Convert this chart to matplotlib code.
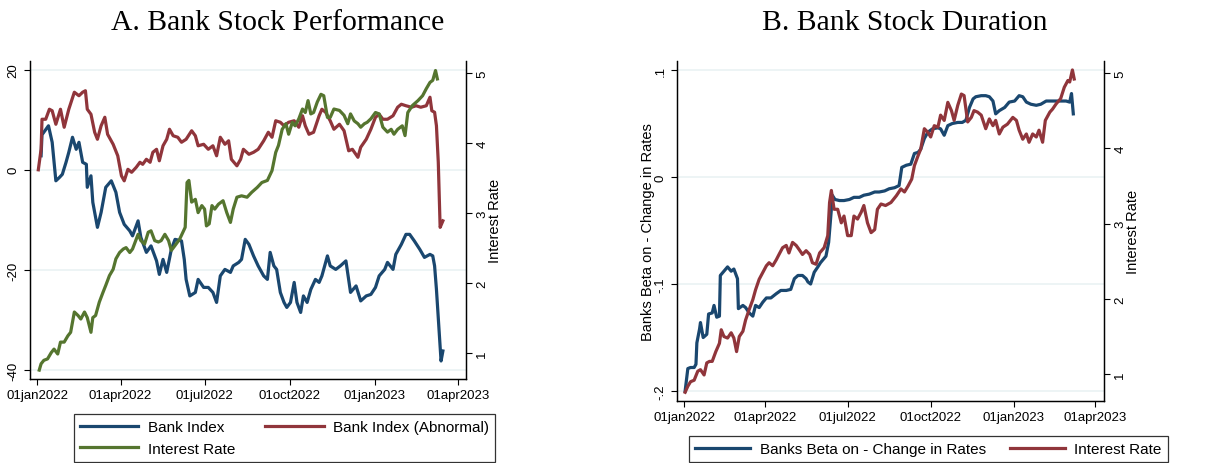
import numpy as np
import matplotlib
matplotlib.use("Agg")
import matplotlib.pyplot as plt
from matplotlib.lines import Line2D

plt.rcParams['font.family'] = ['Liberation Sans', 'DejaVu Sans']

# days since 01jan2022
bank_days = [4, 5, 12, 16, 20, 24, 27, 31, 34, 38,
             42, 45, 49, 53, 54, 58, 60, 65, 69, 74,
             80, 85, 89, 94, 100, 103, 109, 112, 118, 123,
             129, 132, 136, 140, 145, 149, 156, 159, 161, 165,
             171, 174, 180, 185, 190, 194, 198, 203, 209, 212,
             218, 221, 225, 229, 234, 239, 245, 249, 252, 256,
             259, 263, 267, 270, 274, 278, 281, 285, 288, 292,
             296, 301, 305, 308, 314, 317, 323, 328, 334, 339,
             345, 350, 356, 361, 366, 370, 376, 379, 385, 388,
             394, 399, 403, 408, 414, 419, 425, 428, 430, 432,
             435, 437, 439]
bank_index = [2.8, 7, 8.8, 5.5, -2.2, -1.5, -0.9, 1.5, 3.5, 6.5,
              4.1, 5.5, 1.5, 1.1, -3.5, -1.2, -6.5, -11.5, -8.5, -3.5,
              -2.2, -4.5, -8.5, -10.9, -12.2, -13.2, -10.2, -13.5, -16.5, -15.2,
              -18.2, -20.9, -17.9, -20.5, -15.9, -13.9, -14.2, -17.9, -21.9, -25.2,
              -24.5, -21.9, -23.5, -23.5, -24.5, -26.5, -21.2, -19.9, -20.5, -19.2,
              -18.5, -17.9, -13.9, -14.9, -17.2, -19.2, -21.2, -21.9, -16.5, -19.2,
              -19.9, -24.5, -26.5, -27.5, -26.5, -22.5, -26.5, -28.5, -25.2, -26.5,
              -23.9, -21.9, -22.5, -21.2, -17.2, -19.2, -19.9, -19.2, -18.2, -24.5,
              -23.2, -26.2, -25.2, -24.9, -23.5, -21.2, -19.9, -18.5, -19.9, -16.9,
              -14.9, -12.9, -12.9, -14.2, -15.9, -17.5, -16.9, -17.2, -19.2, -23.9,
              -32.5, -38.2, -36.2]

abn_days = [1, 4, 5, 9, 13, 16, 20, 25, 29, 34,
            40, 45, 49, 52, 54, 58, 62, 65, 69, 73,
            76, 82, 87, 91, 94, 98, 102, 107, 111, 114,
            118, 122, 125, 129, 132, 136, 140, 143, 147, 152,
            156, 161, 167, 171, 174, 180, 185, 190, 194, 198,
            203, 207, 210, 216, 220, 223, 229, 234, 239, 245,
            250, 254, 258, 263, 267, 272, 278, 283, 287, 290,
            294, 299, 305, 308, 312, 317, 321, 327, 332, 337,
            341, 347, 350, 356, 361, 366, 370, 374, 379, 385,
            390, 394, 399, 405, 410, 415, 421, 425, 427, 430,
            432, 434, 436, 439]
bank_abnormal = [0, 4.1, 10.1, 10.1, 12.1, 11.8, 9.1, 12.1, 8.5, 12.1,
                 15.5, 14.8, 15.5, 15.8, 12.1, 11.1, 7.5, 6.1, 8.8, 10.5,
                 7.1, 5.1, 2.8, -1.2, -2.2, 0.1, -0.5, 0.5, 1.5, 1.1,
                 2.1, 1.5, 3.5, 4.1, 1.8, 4.8, 6.1, 8.1, 6.8, 6.5,
                 5.5, 6.1, 7.8, 6.8, 4.8, 5.1, 4.1, 4.8, 2.8, 6.5,
                 5.1, 5.8, 2.1, 0.8, 2.1, 4.1, 3.1, 3.5, 4.1, 5.8,
                 7.5, 6.5, 9.8, 9.5, 8.8, 9.5, 9.8, 8.5, 10.8, 8.8,
                 7.1, 7.5, 10.8, 12.1, 11.5, 9.8, 8.1, 9.1, 7.8, 3.8,
                 4.1, 2.5, 4.5, 6.1, 8.1, 10.5, 11.1, 10.1, 10.1, 10.8,
                 12.5, 13.1, 12.8, 12.5, 12.8, 12.5, 12.8, 14.5, 11.8, 11.5,
                 8.8, 1.5, -11.5, -10.2]

rate_a_days = [2, 4, 7, 11, 15, 18, 22, 25, 29, 33,
               36, 40, 44, 47, 51, 54, 58, 60, 63, 67,
               71, 74, 78, 82, 85, 89, 93, 96, 100, 103,
               109, 112, 116, 120, 123, 127, 131, 134, 138, 142,
               145, 149, 154, 160, 162, 164, 167, 171, 174, 178,
               181, 183, 186, 189, 192, 196, 201, 205, 209, 212,
               216, 221, 227, 232, 238, 243, 249, 254, 258, 261,
               265, 269, 272, 276, 279, 283, 287, 290, 293, 296,
               299, 303, 307, 310, 314, 317, 321, 327, 332, 336,
               339, 343, 347, 350, 354, 357, 361, 366, 370, 374,
               379, 383, 386, 390, 395, 398, 401, 406, 412, 417,
               421, 425, 428, 431, 433]
rate_a = [0.76, 0.85, 0.9, 0.92, 1.01, 1.06, 0.99, 1.16, 1.16, 1.25,
          1.3, 1.59, 1.54, 1.49, 1.59, 1.51, 1.3, 1.51, 1.54, 1.73,
          1.87, 1.97, 2.11, 2.2, 2.35, 2.44, 2.49, 2.51, 2.44, 2.49,
          2.7, 2.61, 2.56, 2.73, 2.75, 2.61, 2.59, 2.61, 2.7, 2.61,
          2.47, 2.54, 2.63, 2.8, 3.44, 3.47, 3.16, 3.2, 3.01, 3.11,
          3.06, 2.82, 2.85, 3.11, 3.06, 3.13, 3.18, 3.01, 2.87, 3.06,
          3.23, 3.25, 3.23, 3.3, 3.37, 3.44, 3.47, 3.61, 3.87, 3.97,
          4.2, 4.28, 4.13, 4.3, 4.25, 4.35, 4.49, 4.44, 4.61, 4.42,
          4.44, 4.59, 4.7, 4.68, 4.37, 4.37, 4.49, 4.47, 4.4, 4.28,
          4.42, 4.32, 4.28, 4.23, 4.28, 4.3, 4.35, 4.44, 4.42, 4.23,
          4.16, 4.2, 4.13, 4.2, 4.25, 4.11, 4.44, 4.54, 4.61, 4.68,
          4.78, 4.87, 4.9, 5.04, 4.92]

beta_days = [1, 4, 7, 11, 13, 14, 17, 18, 21, 25,
             27, 31, 33, 36, 39, 40, 44, 48, 52, 55,
             59, 60, 65, 68, 72, 76, 79, 83, 87, 91,
             96, 102, 107, 113, 118, 122, 126, 131, 135, 137,
             140, 144, 148, 151, 157, 160, 163, 164, 167, 172,
             177, 183, 188, 194, 199, 205, 211, 216, 222, 227,
             233, 238, 241, 246, 251, 255, 259, 262, 266, 270,
             275, 281, 284, 288, 292, 297, 303, 308, 312, 316,
             320, 323, 329, 334, 338, 342, 345, 349, 355, 360,
             366, 371, 375, 379, 384, 390, 395, 401, 406, 412,
             417, 423, 427, 429, 431]
banks_beta = [-0.200, -0.179, -0.178, -0.178, -0.175, -0.155, -0.142, -0.136, -0.150, -0.147,
              -0.128, -0.127, -0.120, -0.131, -0.130, -0.092, -0.088, -0.084, -0.088, -0.086,
              -0.095, -0.123, -0.120, -0.122, -0.127, -0.130, -0.120, -0.122, -0.117, -0.113,
              -0.113, -0.109, -0.106, -0.106, -0.105, -0.095, -0.092, -0.092, -0.095, -0.098,
              -0.100, -0.089, -0.084, -0.080, -0.074, -0.061, -0.030, -0.017, -0.021, -0.022,
              -0.022, -0.021, -0.019, -0.019, -0.017, -0.016, -0.014, -0.014, -0.013, -0.011,
              -0.010, -0.008, 0.009, 0.011, 0.012, 0.022, 0.023, 0.026, 0.036, 0.042,
              0.045, 0.046, 0.045, 0.039, 0.048, 0.050, 0.051, 0.051, 0.053, 0.065,
              0.073, 0.075, 0.076, 0.076, 0.075, 0.071, 0.059, 0.062, 0.065, 0.070,
              0.071, 0.076, 0.075, 0.070, 0.068, 0.067, 0.068, 0.071, 0.071, 0.071,
              0.071, 0.071, 0.070, 0.078, 0.059]

rate_b_days = [1, 4, 7, 11, 15, 18, 22, 25, 28, 31,
               35, 39, 41, 44, 48, 52, 55, 58, 61, 65,
               68, 72, 76, 79, 83, 87, 91, 94, 98, 102,
               105, 109, 113, 116, 120, 124, 127, 131, 135, 139,
               142, 146, 150, 155, 159, 161, 163, 166, 170, 174,
               177, 181, 185, 188, 192, 196, 199, 203, 207, 211,
               214, 218, 223, 229, 235, 240, 244, 248, 252, 255,
               259, 262, 266, 270, 273, 277, 281, 284, 288, 292,
               296, 299, 303, 307, 310, 314, 318, 321, 325, 329,
               334, 338, 342, 345, 349, 353, 358, 364, 368, 371,
               375, 379, 382, 386, 390, 393, 397, 400, 405, 408,
               412, 417, 421, 425, 427, 430, 432]
rate_b = [0.76, 0.84, 0.9, 0.92, 1.04, 1.06, 0.99, 1.15, 1.17, 1.17,
          1.3, 1.41, 1.59, 1.5, 1.48, 1.55, 1.48, 1.3, 1.5, 1.57,
          1.72, 1.86, 1.99, 2.12, 2.26, 2.35, 2.44, 2.48, 2.44, 2.52,
          2.59, 2.68, 2.71, 2.61, 2.75, 2.71, 2.66, 2.59, 2.64, 2.59,
          2.48, 2.46, 2.61, 2.68, 2.84, 3.28, 3.44, 3.19, 3.19, 3.01,
          3.1, 2.84, 2.84, 3.1, 3.06, 3.15, 3.24, 3.01, 2.88, 2.92,
          3.19, 3.26, 3.24, 3.28, 3.37, 3.46, 3.42, 3.5, 3.59, 3.77,
          3.9, 3.99, 4.26, 4.21, 4.15, 4.3, 4.28, 4.44, 4.37, 4.61,
          4.5, 4.37, 4.57, 4.72, 4.7, 4.35, 4.41, 4.5, 4.48, 4.44,
          4.26, 4.39, 4.3, 4.37, 4.19, 4.28, 4.32, 4.41, 4.37, 4.24,
          4.12, 4.19, 4.08, 4.19, 4.15, 4.24, 4.08, 4.37, 4.48, 4.52,
          4.59, 4.66, 4.81, 4.9, 4.88, 5.04, 4.92]

tick_dates = ['2022-01-01', '2022-04-01', '2022-07-01', '2022-10-01', '2023-01-01', '2023-04-01']
tick_labels = ['01jan2022', '01apr2022', '01jul2022', '01oct2022', '01jan2023', '01apr2023']

NAVY = '#1a476f'
MAROON = '#90353b'
GREEN = '#55752f'
GRID = '#eaf2f3'
LW = 2.3

start = np.datetime64('2022-01-01')


def to_dates(days):
    return start + np.array(days).astype('timedelta64[D]')


def style_axes(ax, ax2, xlim, left_ticks, left_labels, ylim, ylim2):
    ax.set_xlim(to_dates([xlim[0]])[0], to_dates([xlim[1]])[0])
    ax.set_ylim(*ylim)
    ax2.set_ylim(*ylim2)
    ax.set_xticks(np.array(tick_dates, dtype='datetime64[D]'))
    ax.set_xticklabels(tick_labels)
    ax.set_yticks(left_ticks)
    ax.set_yticklabels(left_labels)
    ax2.set_yticks([1, 2, 3, 4, 5])
    ax2.set_yticklabels(['1', '2', '3', '4', '5'])
    for a in (ax, ax2):
        a.spines['top'].set_visible(False)
        for s in ('left', 'right', 'bottom'):
            a.spines[s].set_linewidth(0.9)
        a.tick_params(axis='y', labelrotation=90, labelsize=9.5, length=4, width=0.8)
        a.tick_params(axis='x', labelsize=9.5, length=4, width=0.8)
    for lab in ax.get_yticklabels() + ax2.get_yticklabels():
        lab.set_va('center')
    ax.grid(axis='y', color=GRID, linewidth=1.2)
    ax.set_axisbelow(True)
    ax2.set_ylabel('Interest Rate', fontsize=10.5, labelpad=0)


fig = plt.figure(figsize=(12.17, 4.64), dpi=100)

# Panel A
axA = fig.add_axes([30 / 1217, 84 / 464, 436 / 1217, 318 / 464])
axA2 = axA.twinx()
axA.plot(to_dates(bank_days), bank_index, color=NAVY, lw=LW)
axA.plot(to_dates(abn_days), bank_abnormal, color=MAROON, lw=LW)
axA2.plot(to_dates(rate_a_days), rate_a, color=GREEN, lw=LW)
style_axes(axA, axA2, (-8.7, 464.8), [-40, -20, 0, 20], ['-40', '-20', '0', '20'],
           (-41.8, 21.74), (0.633, 5.176))

# Panel B
axB = fig.add_axes([677 / 1217, 62 / 464, 427 / 1217, 340 / 464])
axB2 = axB.twinx()
axB.plot(to_dates(beta_days), banks_beta, color=NAVY, lw=LW)
axB2.plot(to_dates(rate_b_days), rate_b, color=MAROON, lw=LW)
style_axes(axB, axB2, (-8.9, 465), [-0.2, -0.1, 0, 0.1], ['-.2', '-.1', '0', '.1'],
           (-0.2093, 0.1084), (0.644, 5.159))
axB.set_ylabel('Banks Beta on - Change in Rates', fontsize=10.5, labelpad=0)

# titles
fig.text(278 / 1217, 1 - 23 / 464, 'A. Bank Stock Performance', ha='center', va='center',
         fontsize=21.3, family=['Liberation Serif', 'DejaVu Serif'])
fig.text(905 / 1217, 1 - 23 / 464, 'B. Bank Stock Duration', ha='center', va='center',
         fontsize=21.3, family=['Liberation Serif', 'DejaVu Serif'])

# legends
hA = [Line2D([], [], color=NAVY, lw=LW), Line2D([], [], color=GREEN, lw=LW),
      Line2D([], [], color=MAROON, lw=LW)]
legA = fig.legend(hA, ['Bank Index', 'Interest Rate', 'Bank Index (Abnormal)'],
                  ncol=2, loc='upper center', bbox_to_anchor=(284.5 / 1217, 1 - 415 / 464),
                  frameon=True, fancybox=False, edgecolor='black', fontsize=11,
                  handlelength=3.8, handletextpad=0.6, columnspacing=2.0,
                  borderpad=0.4, labelspacing=0.5, borderaxespad=0)
legA.get_frame().set_linewidth(0.9)

hB = [Line2D([], [], color=NAVY, lw=LW), Line2D([], [], color=MAROON, lw=LW)]
legB = fig.legend(hB, ['Banks Beta on - Change in Rates', 'Interest Rate'],
                  ncol=2, loc='upper center', bbox_to_anchor=(928.5 / 1217, 1 - 437 / 464),
                  frameon=True, fancybox=False, edgecolor='black', fontsize=11,
                  handlelength=3.6, handletextpad=0.6, columnspacing=1.6,
                  borderpad=0.4, borderaxespad=0)
legB.get_frame().set_linewidth(0.9)

fig.savefig('out.png', dpi=100)
